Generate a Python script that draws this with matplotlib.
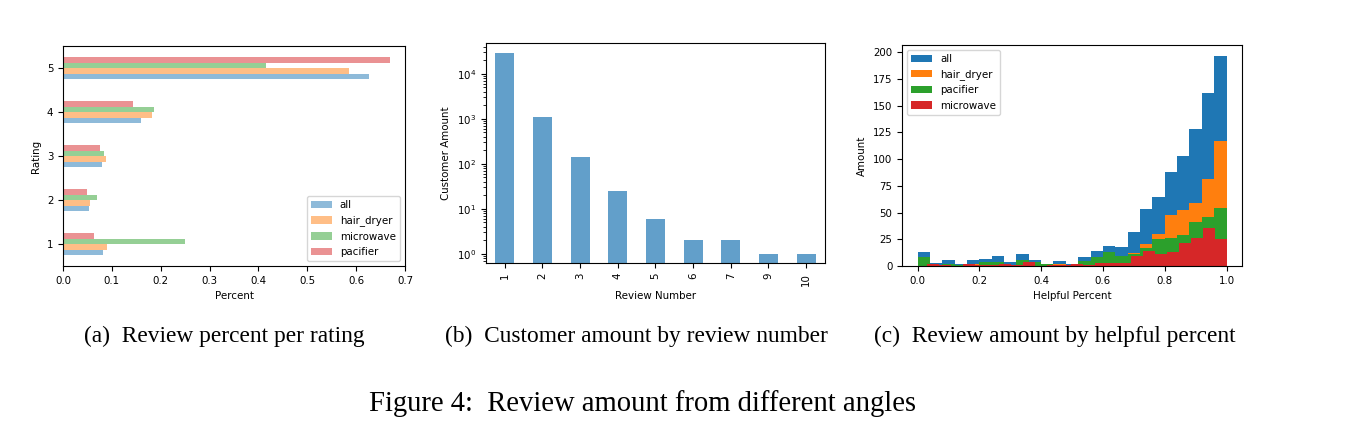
import numpy as np
import matplotlib
matplotlib.use("Agg")
import matplotlib.pyplot as plt

plt.rcParams['font.size'] = 7.4

# (a) review percent per rating
ratings = [1, 2, 3, 4, 5]
pct_all = [0.082, 0.053, 0.080, 0.160, 0.626]
pct_hair = [0.090, 0.056, 0.087, 0.183, 0.585]
pct_micro = [0.249, 0.069, 0.083, 0.186, 0.415]
pct_pac = [0.063, 0.049, 0.075, 0.144, 0.669]

# (b) customer amount by review number
review_num = ['1', '2', '3', '4', '5', '6', '7', '9', '10']
customers = [29000, 1070, 145, 25, 6, 2, 2, 1, 1]

# (c) helpful percent histograms (25 bins each)
n_bins = 25
hist_all = [13, 3, 6, 2, 6, 7, 9, 4, 11, 6, 2, 5, 2, 8, 14, 19, 18, 32, 53, 65, 88, 103, 128, 162, 197]
hist_hair = [3, 0, 2, 1, 2, 2, 3, 1, 2, 1, 0, 2, 0, 2, 4, 4, 5, 12, 21, 30, 48, 52, 59, 81, 117]
hist_pac = [8, 1, 2, 1, 1, 4, 4, 1, 6, 4, 2, 1, 0, 5, 8, 13, 9, 11, 17, 25, 26, 29, 41, 46, 54]
hist_micro = [2, 1, 0, 2, 1, 1, 2, 1, 4, 0, 1, 1, 2, 1, 3, 3, 3, 9, 14, 11, 13, 22, 26, 36, 25]
hist_start = {'all': 0.0, 'hair_dryer': 0.0, 'pacifier': 0.0, 'microwave': 0.031}

fig = plt.figure(figsize=(13.62, 4.25), dpi=100)
ax1 = fig.add_axes([0.0463, 0.3741, 0.2511, 0.5176])
ax2 = fig.add_axes([0.3568, 0.3812, 0.2489, 0.5176])
ax3 = fig.add_axes([0.6623, 0.3741, 0.2496, 0.5200])

# --- panel a
y = np.arange(len(ratings))
h = 0.125
series = [('all', pct_all), ('hair_dryer', pct_hair), ('microwave', pct_micro), ('pacifier', pct_pac)]
for i, (name, vals) in enumerate(series):
    ax1.barh(y - 0.25 + h * (i + 0.5), vals, height=h, color='C%d' % i, alpha=0.5, label=name)
ax1.set_yticks(y)
ax1.set_yticklabels([str(r) for r in ratings])
ax1.set_ylim(-0.5, len(ratings) - 0.5)
ax1.set_xlim(0, 0.7)
ax1.set_xlabel('Percent')
ax1.set_ylabel('Rating')
ax1.legend(loc='lower right')

# --- panel b
x = np.arange(len(review_num))
ax2.bar(x, customers, width=0.5, color='C0', alpha=0.7)
ax2.set_yscale('log')
ax2.set_xticks(x)
ax2.set_xticklabels(review_num, rotation=90)
ax2.set_xlim(-0.5, len(review_num) - 0.5)
ax2.set_ylim(0.63, 48000)
ax2.set_xlabel('Review Number')
ax2.set_ylabel('Customer Amount')

# --- panel c
for i, (name, counts) in enumerate([('all', hist_all), ('hair_dryer', hist_hair),
                                    ('pacifier', hist_pac), ('microwave', hist_micro)]):
    edges = np.linspace(hist_start[name], 1.0, n_bins + 1)
    centers = (edges[:-1] + edges[1:]) / 2
    ax3.hist(centers, bins=edges, weights=counts, color='C%d' % i, label=name)
ax3.set_xlabel('Helpful Percent')
ax3.set_ylabel('Amount')
ax3.legend(loc='upper left')

# captions
cap = dict(family='Liberation Serif', fontsize=16.8, ha='center', va='baseline')
fig.text(0.1645, 0.1953, '(a)  Review percent per rating', **cap)
fig.text(0.467, 0.1953, '(b)  Customer amount by review number', **cap)
fig.text(0.7746, 0.1953, '(c)  Review amount by helpful percent', **cap)
fig.text(0.4714, 0.033, 'Figure 4:  Review amount from different angles',
         family='Liberation Serif', fontsize=20.6, ha='center', va='baseline')

fig.savefig('out.png', dpi=100)
